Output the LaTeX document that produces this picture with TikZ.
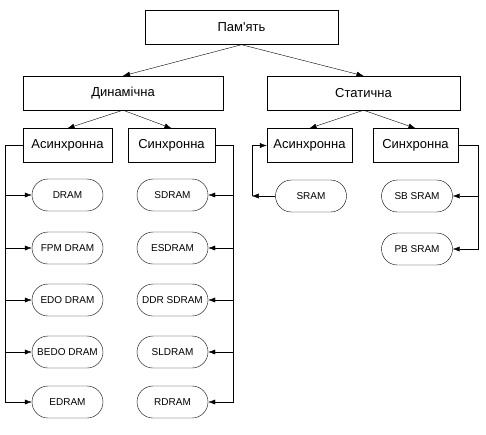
\documentclass[tikz,border=0pt]{standalone}
\usepackage{fontspec}
\setmainfont{Liberation Sans}[Ligatures=TeXOff]
\usetikzlibrary{arrows.meta}

\begin{document}
\begin{tikzpicture}[x=1pt, y=-1pt,
  catbox/.style={draw, thin, minimum height=34pt, inner sep=0pt, font=\fontsize{13}{15}\selectfont},
  chip/.style={draw, thin, rounded corners=16pt, minimum width=71pt, minimum height=32pt, inner sep=0pt, font=\fontsize{10}{12}\selectfont},
  link/.style={-{Latex[length=7pt,width=5pt]}, thin}]
  \useasboundingbox (0,0) rectangle (486,434);

  % --- Top levels ---
  \node[catbox, minimum width=193pt] (mem) at (241.5,27.5) {Пам'ять};
  \node[catbox, minimum width=200pt] (dyn) at (123,93) {Динамічна};
  \node[catbox, minimum width=193pt] (stat) at (363.5,93) {Статична};
  \draw[link] (mem.south) -- (dyn.north);
  \draw[link] (mem.south) -- (stat.north);

  % --- Kinds ---
  \node[catbox, minimum width=89pt] (dasync) at (67.5,145.5) {Асинхронна};
  \node[catbox, minimum width=87pt] (dsync) at (171.5,145.5) {Синхронна};
  \node[catbox, minimum width=85pt] (sasync) at (309.5,145.5) {Асинхронна};
  \node[catbox, minimum width=85pt] (ssync) at (415.5,145.5) {Синхронна};
  \draw[link] (dyn.south) -- (dasync.north);
  \draw[link] (dyn.south) -- (dsync.north);
  \draw[link] (stat.south) -- (sasync.north);
  \draw[link] (stat.south) -- (ssync.north);

  % --- Dynamic, asynchronous ---
  \foreach \name/\lbl/\y in {dram/DRAM/195, fpm/FPM DRAM/248, edo/EDO DRAM/300,
      bedo/BEDO DRAM/352, edram/EDRAM/402}{
    \node[chip] (\name) at (67.5,\y) {\lbl};
    \draw[link] (dasync.west) -- ++(-18,0) |- (\name.west);
  }

  % --- Dynamic, synchronous ---
  \foreach \name/\lbl/\y in {sdram/SDRAM/195, esdram/ESDRAM/248, ddr/DDR SDRAM/300,
      sldram/SLDRAM/352, rdram/RDRAM/402}{
    \node[chip] (\name) at (172.5,\y) {\lbl};
    \draw[link] (dsync.east) -- ++(18,0) |- (\name.east);
  }

  % --- Static ---
  \node[chip] (sram) at (311,196) {SRAM};
  \coordinate (sbend) at ([xshift=-15pt]sasync.west |- sram.west);
  \draw[link] (sram.west) -- (sbend);
  \draw[link] (sbend) |- (sasync.west);
  \foreach \name/\lbl/\y in {sbsram/SB SRAM/196, pbsram/PB SRAM/249}{
    \node[chip] (\name) at (417,\y) {\lbl};
    \draw[link] (ssync.east) -- ++(20,0) |- (\name.east);
  }
\end{tikzpicture}
\end{document}
